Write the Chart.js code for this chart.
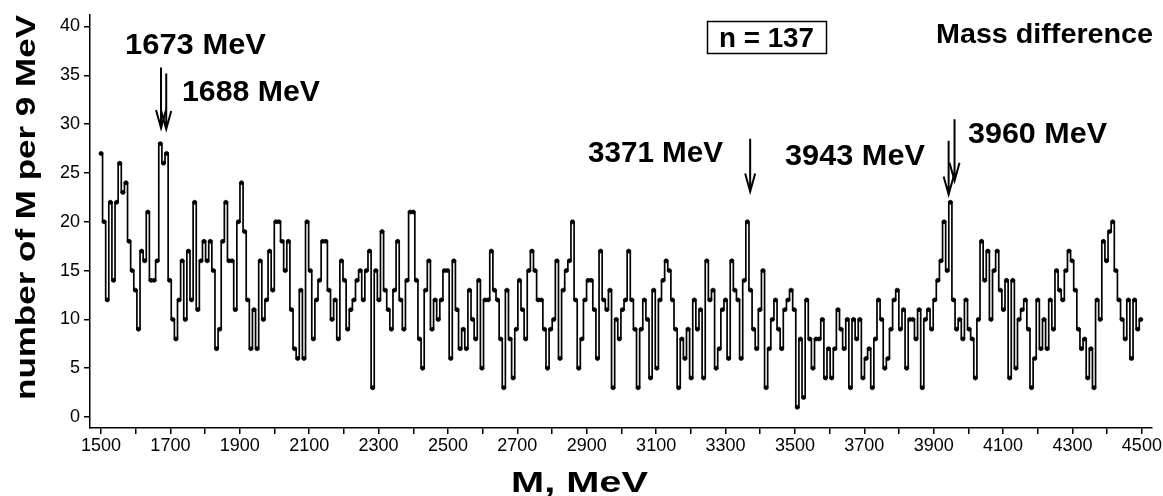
<!DOCTYPE html>
<html>
<head>
<meta charset="utf-8">
<script src="https://cdn.jsdelivr.net/npm/chart.js@4.4.1/dist/chart.umd.min.js"></script>
<style>
  html, body { margin: 0; padding: 0; background: #fff; }
  #wrap { width: 1163px; height: 496px; position: relative; }
</style>
</head>
<body>
<div id="wrap"><canvas id="c" width="1163" height="496"></canvas></div>
<script>
// Histogram of the mass difference M, 9 MeV bins starting at 1500 MeV
const binStart = 1500;
const binWidth = 9;
const counts = [
  27, 20, 12, 22, 14, 22, 26, 23, 24, 18, 15, 13, 9, 17, 16, 21, 14, 14, 16, 28, 26, 27, 14, 10, 8, 12, 16, 10,
  17, 12, 22, 11, 16, 18, 16, 18, 15, 7, 9, 18, 22, 16, 16, 11, 20, 24, 19, 12, 7, 11, 7, 16, 10, 12, 17,
  13, 20, 20, 18, 15, 18, 11, 7, 6, 13, 6, 20, 15, 8, 12, 14, 18, 18, 13, 10, 12, 8, 16, 14, 9, 11, 12, 14,
  15, 12, 15, 17, 3, 15, 12, 19, 13, 11, 9, 13, 18, 12, 9, 14, 21, 21, 14, 8, 5, 13, 16, 9, 12, 10, 12, 15,
  15, 6, 16, 11, 7, 9, 7, 13, 10, 8, 14, 5, 12, 12, 17, 13, 12, 8, 3, 13, 8, 4, 9, 14, 11, 8, 15, 17,
  15, 12, 12, 9, 5, 9, 10, 16, 6, 13, 15, 16, 20, 12, 5, 8, 12, 14, 14, 11, 6, 17, 12, 11, 13, 3, 10, 8,
  11, 12, 17, 12, 9, 3, 9, 12, 10, 4, 13, 5, 12, 14, 16, 15, 12, 9, 3, 8, 6, 9, 4, 12, 9, 11, 4, 16, 12,
  13, 5, 7, 11, 12, 6, 16, 13, 12, 6, 14, 20, 13, 9, 7, 11, 15, 3, 7, 10, 12, 9, 7, 11, 12, 13, 11, 1,
  8, 2, 12, 8, 5, 8, 8, 10, 4, 7, 4, 7, 11, 9, 7, 10, 3, 10, 8, 10, 4, 6, 7, 3, 8, 12, 10, 5,
  6, 9, 12, 13, 9, 11, 5, 10, 10, 8, 11, 3, 10, 11, 9, 12, 14, 16, 20, 15, 22, 12, 9, 10, 8, 12, 9, 8,
  4, 10, 18, 14, 17, 10, 15, 17, 13, 11, 14, 4, 14, 5, 10, 11, 12, 9, 3, 6, 12, 7, 10, 7, 12, 9, 15, 13,
  12, 15, 17, 16, 13, 9, 7, 8, 4, 7, 3, 12, 10, 18, 16, 19, 20, 15, 12, 10, 8, 12, 6, 12, 9, 10
];
const xTickLabels = ['1500','1700','1900','2100','2300','2500','2700','2900','3100','3300','3500','3700','3900','4100','4300','4500'];
const yTickLabels = ['0','5','10','15','20','25','30','35','40'];

// Marked peaks: label text, mass (MeV), arrow tail and tip heights (counts)
const peakNames = ['1673 MeV', '1688 MeV', '3371 MeV', '3943 MeV', '3960 MeV'];
const peakMass  = [1673, 1688, 3371, 3943, 3960];
const arrowTail = [35.8, 35.2, 28.5, 28.3, 30.5];
const arrowTip  = [29.6, 29.5, 23.1, 22.8, 24.2];

const points = counts.map((v, i) => ({ x: binStart + i * binWidth, y: v }));
const xTickValues = xTickLabels.map(Number);
const yTickValues = yTickLabels.map(Number);

const FONT = '"Liberation Sans", Arial, sans-serif';

// text helper: draws text so that it spans a given width
function fitText(ctx, text, x, y, size, weight, width, align) {
  ctx.save();
  ctx.font = weight + ' ' + size + 'px ' + FONT;
  const w = ctx.measureText(text).width;
  const sx = width ? width / w : 1;
  ctx.translate(x, y);
  ctx.scale(sx, 1);
  ctx.textAlign = align || 'left';
  ctx.textBaseline = 'alphabetic';
  ctx.fillStyle = '#000';
  ctx.fillText(text, 0, 0);
  ctx.restore();
}

const annotate = {
  id: 'annotate',
  afterDatasetsDraw(chart) {
    const { ctx, scales: { x, y } } = chart;
    // arrows at the marked peaks
    ctx.save();
    ctx.strokeStyle = '#000';
    ctx.lineWidth = 2;
    peakMass.forEach((m, i) => {
      const px = x.getPixelForValue(m);
      const y0 = y.getPixelForValue(arrowTail[i]);
      const y1 = y.getPixelForValue(arrowTip[i]);
      ctx.beginPath();
      ctx.moveTo(px, y0);
      ctx.lineTo(px, y1);
      ctx.moveTo(px - 5, y1 - 18);
      ctx.lineTo(px, y1);
      ctx.lineTo(px + 5, y1 - 18);
      ctx.stroke();
    });
    ctx.restore();

    // peak labels
    const labelPos = [[125, 54, 141], [182, 101, 138], [588, 162, 135], [785, 165, 140], [968, 143, 139]];
    peakNames.forEach((t, i) => fitText(ctx, t, labelPos[i][0], labelPos[i][1], 29, 'bold', labelPos[i][2]));

    // sample size box
    ctx.save();
    ctx.strokeStyle = '#000';
    ctx.lineWidth = 1.5;
    ctx.strokeRect(707.5, 21.5, 119, 32);
    ctx.restore();
    fitText(ctx, 'n = 137', 719, 47, 27, 'bold', 95);

    fitText(ctx, 'Mass difference', 936, 43, 27, 'bold', 217);

    // axis titles
    ctx.save();
    ctx.translate(35, 400);
    ctx.rotate(-Math.PI / 2);
    fitText(ctx, 'number of M per 9 MeV', 0, 0, 28, 'bold', 385);
    ctx.restore();
    fitText(ctx, 'M, MeV', 511, 492, 29, 'bold', 137);
  }
};

new Chart(document.getElementById('c'), {
  type: 'line',
  data: {
    datasets: [{
      data: points,
      borderColor: '#000',
      backgroundColor: '#000',
      borderWidth: 1.7,
      stepped: 'middle',
      pointRadius: 2,
      pointHoverRadius: 2,
      pointBorderWidth: 0.8,
      pointBorderColor: '#000',
      pointBackgroundColor: '#000',
      fill: false
    }]
  },
  options: {
    responsive: false,
    animation: false,
    devicePixelRatio: 1,
    layout: { padding: { left: 0, right: 10, top: 13, bottom: 0 } },
    plugins: { legend: { display: false }, tooltip: { enabled: false } },
    scales: {
      x: {
        type: 'linear',
        min: 1468.3,
        max: 4529,
        afterFit(s) { s.height = 68; },
        afterBuildTicks(s) {
          const t = [];
          for (let v = 1500; v <= 4500; v += 100) t.push({ value: v });
          s.ticks = t;
        },
        ticks: {
          autoSkip: false,
          maxRotation: 0,
          padding: 1,
          color: '#000',
          font: { family: FONT, size: 18 },
          callback: v => (xTickValues.includes(v) ? String(v) : '')
        },
        grid: { drawOnChartArea: false, drawTicks: true, tickLength: 6, color: '#000', lineWidth: 1.5 },
        border: { display: true, color: '#000', width: 1.5 }
      },
      y: {
        type: 'linear',
        min: -1.12,
        max: 41.2,
        afterFit(s) { s.width = 90; },
        afterBuildTicks(s) {
          s.ticks = yTickValues.map(v => ({ value: v }));
        },
        ticks: {
          padding: 4,
          color: '#000',
          font: { family: FONT, size: 18 },
          callback: v => String(v)
        },
        grid: { drawOnChartArea: false, drawTicks: true, tickLength: 6, color: '#000', lineWidth: 1.5 },
        border: { display: true, color: '#000', width: 1.5 }
      }
    }
  },
  plugins: [annotate]
});
</script>
</body>
</html>
